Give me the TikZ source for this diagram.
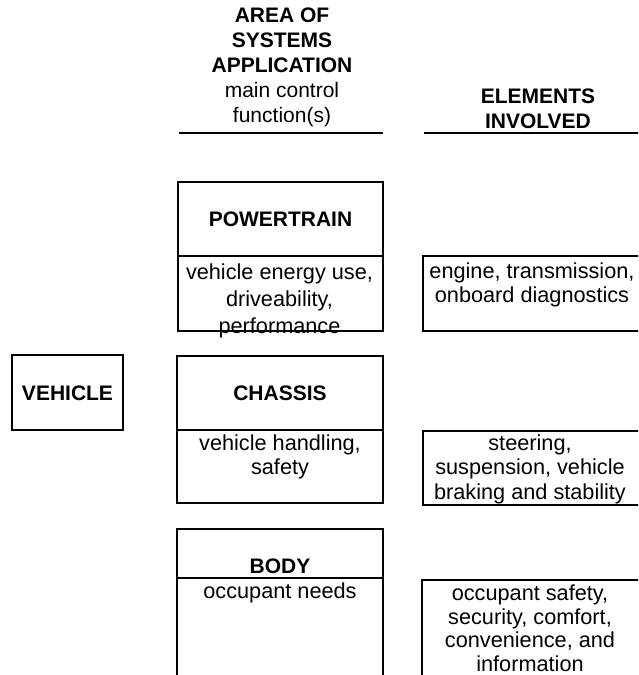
\documentclass[tikz,border=0pt]{standalone}
\usepackage{fontspec}
\setmainfont{Liberation Sans}
\begin{document}
\begin{tikzpicture}[x=1pt,y=-1pt,
  frame/.style={draw=black,line width=1.1pt},
  rule/.style={draw=black,line width=1.2pt},
  txt/.style={align=center,inner sep=0pt,font=\fontsize{21.7}{#1}\selectfont},
  txt/.default=24,
  hd/.style={align=center,inner sep=0pt,font=\fontsize{21}{25}\selectfont\bfseries}]
\useasboundingbox (0,0) rectangle (638,675);
\clip (0,0) rectangle (638,675);
% header
\node[align=center,inner sep=0pt,font=\fontsize{21}{25}\selectfont] (hleft) at (282,67) {\textbf{AREA OF}\\\textbf{SYSTEMS}\\\textbf{APPLICATION}\\main control\\function(s)};
\node[hd] (hright) at (538,109) {ELEMENTS\\INVOLVED};
\draw[rule] (179,133) -- (383,133);
\draw[rule] (424,133) -- (640,133);
% powertrain
\draw[frame] (178,182) rectangle (383,331);
\draw[frame] (178,256) -- (383,256);
\node[hd] (pt) at (280.5,219) {POWERTRAIN};
\node[txt=27] (ptf) at (279.5,301) {vehicle energy use,\\driveability,\\performance};
\draw[frame] (660,256) -- (423,256) -- (423,331) -- (660,331);
\node[txt=24] (el1) at (532,285) {engine, transmission,\\onboard diagnostics};
% vehicle
\draw[frame] (12,355) rectangle (123,430);
\node[hd] (veh) at (67.5,393) {VEHICLE};
% chassis
\draw[frame] (177,356) rectangle (383,503);
\draw[frame] (177,430) -- (383,430);
\node[hd] (ch) at (280,393) {CHASSIS};
\node[txt=24] (chf) at (280,457) {vehicle handling,\\safety};
\draw[frame] (660,431) -- (423,431) -- (423,505) -- (660,505);
\node[txt=24.5] (el2) at (530,469) {steering,\\suspension, vehicle\\braking and stability};
% body
\draw[frame] (177,690) -- (177,529) -- (383,529) -- (383,690);
\draw[frame] (177,578) -- (383,578);
\node[hd] (bd) at (280,566) {BODY};
\node[txt=24] (bdf) at (280,593) {occupant needs};
\draw[frame] (660,580) -- (422,580) -- (422,690);
\node[txt=23.5] (el3) at (530,628) {occupant safety,\\security, comfort,\\convenience, and\\information};
\end{tikzpicture}
\end{document}
